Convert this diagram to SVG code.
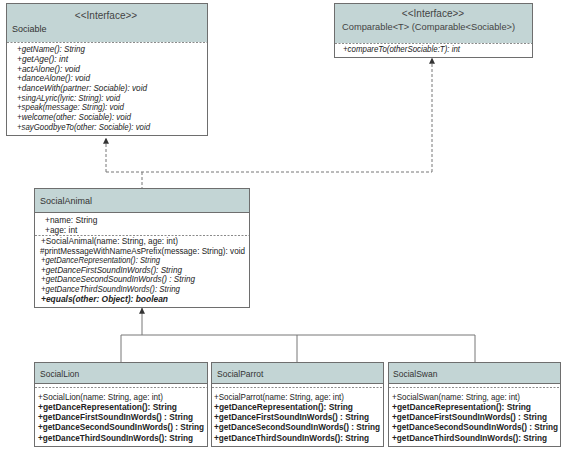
<svg xmlns="http://www.w3.org/2000/svg" width="566" height="452" viewBox="0 0 566 452">
<defs>
<style>
.box{fill:#ffffff;stroke:#6e6e6e;stroke-width:1}
.hdr{fill:#c3d5d5;stroke:none}
.sep{stroke:#8a8a8a;stroke-width:1;stroke-dasharray:2,1.5;fill:none}
.hl{stroke:#6e6e6e;stroke-width:1;fill:none}
text{font-family:"Liberation Sans",Arial,sans-serif;font-size:8.4px;fill:#222}
.t{font-size:9px;fill:#333}
.ts{font-size:8.5px;fill:#333}
.st{font-size:10px;fill:#444}
.st2{font-size:9.3px;fill:#444}
.i{font-style:italic}
.b{font-weight:bold;font-size:8.5px}
.eb{font-weight:bold;font-size:8.4px}
.dash{stroke:#777;stroke-width:1;stroke-dasharray:3,2;fill:none}
.solid{stroke:#777;stroke-width:1;fill:none}
</style>
<marker id="arr" viewBox="0 0 8 8" refX="7.5" refY="4" markerWidth="6" markerHeight="6" orient="auto" markerUnits="userSpaceOnUse">
<path d="M0,0 L8,4 L0,8 z" fill="#333"/>
</marker>
</defs>

<g id="connectors">
<path class="dash" d="M106,172 V138" marker-end="url(#arr)"/>
<path class="dash" d="M432,172 V58" marker-end="url(#arr)"/>
<path class="dash" d="M106,172 H432"/>
<path class="dash" d="M142,172 V188"/>
<path class="solid" d="M142,335 V308" marker-end="url(#arr)"/>
<path class="solid" d="M121,335 H475"/>
<path class="solid" d="M121,335 V362"/>
<path class="solid" d="M297,335 V362"/>
<path class="solid" d="M475,335 V362"/>
</g>

<g id="Sociable">
<rect class="box" x="6.5" y="3.5" width="201" height="132"/>
<rect class="hdr" x="7" y="4" width="200" height="38"/>
<line class="sep" x1="7" y1="42.5" x2="207" y2="42.5"/>
<text class="st" x="106" y="19" text-anchor="middle">&lt;&lt;Interface&gt;&gt;</text>
<text class="t" x="12" y="32">Sociable</text>
<text class="i" x="17" y="52" textLength="68" lengthAdjust="spacingAndGlyphs">+getName(): String</text>
<text class="i" x="17" y="62" textLength="51" lengthAdjust="spacingAndGlyphs">+getAge(): int</text>
<text class="i" x="17" y="71.5" textLength="63" lengthAdjust="spacingAndGlyphs">+actAlone(): void</text>
<text class="i" x="17" y="81" textLength="73" lengthAdjust="spacingAndGlyphs">+danceAlone(): void</text>
<text class="i" x="17" y="91" textLength="130" lengthAdjust="spacingAndGlyphs">+danceWith(partner: Sociable): void</text>
<text class="i" x="17" y="100.5" textLength="103" lengthAdjust="spacingAndGlyphs">+singALyric(lyric: String): void</text>
<text class="i" x="17" y="110" textLength="107" lengthAdjust="spacingAndGlyphs">+speak(message: String): void</text>
<text class="i" x="17" y="120" textLength="114" lengthAdjust="spacingAndGlyphs">+welcome(other: Sociable): void</text>
<text class="i" x="17" y="130" textLength="133" lengthAdjust="spacingAndGlyphs">+sayGoodbyeTo(other: Sociable): void</text>
</g>

<g id="Comparable">
<rect class="box" x="334.5" y="3.5" width="198" height="54"/>
<rect class="hdr" x="335" y="4" width="197" height="39"/>
<line class="sep" x1="335" y1="43.5" x2="532" y2="43.5"/>
<text class="st" x="433" y="17" text-anchor="middle">&lt;&lt;Interface&gt;&gt;</text>
<text class="st2" x="342" y="30">Comparable&lt;T&gt; (Comparable&lt;Sociable&gt;)</text>
<text class="i" x="343" y="52" textLength="117" lengthAdjust="spacingAndGlyphs">+compareTo(otherSociable:T): int</text>
</g>

<g id="SocialAnimal">
<rect class="box" x="34.5" y="188.5" width="215" height="119"/>
<rect class="hdr" x="35" y="189" width="214" height="23"/>
<line class="hl" x1="35" y1="212.5" x2="249" y2="212.5"/>
<text class="t" x="40" y="204">SocialAnimal</text>
<text x="45" y="223">+name: String</text>
<text x="45" y="233">+age: int</text>
<line class="sep" x1="35" y1="235.5" x2="249" y2="235.5"/>
<text x="41" y="244" textLength="137" lengthAdjust="spacingAndGlyphs">+SocialAnimal(name: String, age: int)</text>
<text x="40" y="253.5" textLength="205" lengthAdjust="spacingAndGlyphs">#printMessageWithNameAsPrefix(message: String): void</text>
<text class="i" x="41" y="263" textLength="119" lengthAdjust="spacingAndGlyphs">+getDanceRepresentation(): String</text>
<text class="i" x="41" y="272.5" textLength="141" lengthAdjust="spacingAndGlyphs">+getDanceFirstSoundInWords(): String</text>
<text class="i" x="41" y="282" textLength="154" lengthAdjust="spacingAndGlyphs">+getDanceSecondSoundInWords() : String</text>
<text class="i" x="41" y="291.5" textLength="139" lengthAdjust="spacingAndGlyphs">+getDanceThirdSoundInWords(): String</text>
<text class="i eb" x="41" y="301.5" textLength="127" lengthAdjust="spacingAndGlyphs">+equals(other: Object): boolean</text>
</g>

<g id="SocialLion">
<rect class="box" x="34.5" y="362.5" width="173" height="84"/>
<rect class="hdr" x="35" y="363" width="172" height="20"/>
<line class="hl" x1="35" y1="383.5" x2="207" y2="383.5"/>
<line class="sep" x1="35" y1="387.5" x2="207" y2="387.5"/>
<text class="ts" x="40" y="377">SocialLion</text>
<text x="38" y="400" textLength="125" lengthAdjust="spacingAndGlyphs">+SocialLion(name: String, age: int)</text>
<text class="b" x="38" y="410" textLength="139" lengthAdjust="spacingAndGlyphs">+getDanceRepresentation(): String</text>
<text class="b" x="38" y="420" textLength="155" lengthAdjust="spacingAndGlyphs">+getDanceFirstSoundInWords() : String</text>
<text class="b" x="38" y="430" textLength="166" lengthAdjust="spacingAndGlyphs">+getDanceSecondSoundInWords() : String</text>
<text class="b" x="38" y="440.5" textLength="155" lengthAdjust="spacingAndGlyphs">+getDanceThirdSoundInWords(): String</text>
</g>

<g id="SocialParrot">
<rect class="box" x="211.5" y="362.5" width="172" height="84"/>
<rect class="hdr" x="212" y="363" width="171" height="20"/>
<line class="hl" x1="212" y1="383.5" x2="383" y2="383.5"/>
<line class="sep" x1="212" y1="387.5" x2="383" y2="387.5"/>
<text class="ts" x="217" y="377">SocialParrot</text>
<text x="214" y="400" textLength="130" lengthAdjust="spacingAndGlyphs">+SocialParrot(name: String, age: int)</text>
<text class="b" x="214" y="410" textLength="139" lengthAdjust="spacingAndGlyphs">+getDanceRepresentation(): String</text>
<text class="b" x="214" y="420" textLength="155" lengthAdjust="spacingAndGlyphs">+getDanceFirstSoundInWords() : String</text>
<text class="b" x="214" y="430" textLength="166" lengthAdjust="spacingAndGlyphs">+getDanceSecondSoundInWords() : String</text>
<text class="b" x="214" y="440.5" textLength="155" lengthAdjust="spacingAndGlyphs">+getDanceThirdSoundInWords(): String</text>
</g>

<g id="SocialSwan">
<rect class="box" x="388.5" y="362.5" width="172" height="84"/>
<rect class="hdr" x="389" y="363" width="171" height="20"/>
<line class="hl" x1="389" y1="383.5" x2="560" y2="383.5"/>
<line class="sep" x1="389" y1="387.5" x2="560" y2="387.5"/>
<text class="ts" x="393" y="377">SocialSwan</text>
<text x="392" y="400" textLength="128" lengthAdjust="spacingAndGlyphs">+SocialSwan(name: String, age: int)</text>
<text class="b" x="392" y="410" textLength="139" lengthAdjust="spacingAndGlyphs">+getDanceRepresentation(): String</text>
<text class="b" x="392" y="420" textLength="155" lengthAdjust="spacingAndGlyphs">+getDanceFirstSoundInWords() : String</text>
<text class="b" x="392" y="430" textLength="166" lengthAdjust="spacingAndGlyphs">+getDanceSecondSoundInWords() : String</text>
<text class="b" x="392" y="440.5" textLength="155" lengthAdjust="spacingAndGlyphs">+getDanceThirdSoundInWords(): String</text>
</g>
</svg>
